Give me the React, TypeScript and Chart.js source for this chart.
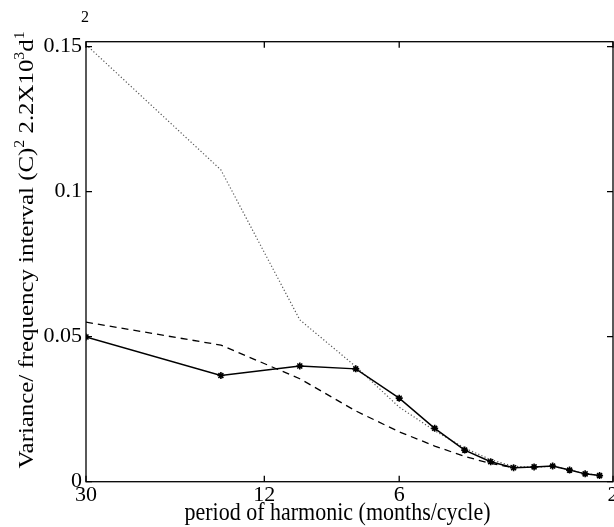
import { useEffect, useRef } from 'react';
import { Chart, registerables } from 'chart.js';

Chart.register(...registerables);

// ---- data ----
const harmonics = [2, 4, 6, 8, 10, 12, 14, 16, 18, 20, 22, 24, 26, 28];
const observedVariance = [0.0499, 0.0366, 0.0399, 0.0389, 0.0288, 0.0184, 0.0109, 0.0069, 0.0048, 0.0051, 0.0054, 0.004, 0.0027, 0.0021];
const dottedVariance = [0.1507, 0.1075, 0.0558, 0.0397, 0.0257, 0.0176, 0.0116, 0.0076, 0.0053, 0.005, 0.0053, 0.0041, 0.0028, 0.0022];
const dashedHarmonics = [2, 4, 6, 8, 10, 12, 14, 16, 18];
const dashedVariance = [0.055, 0.0471, 0.0355, 0.0244, 0.0172, 0.0123, 0.0087, 0.0063, 0.0048];

const xTickHarmonics = [2, 5, 10, 30];
const xTickLabels = ['30', '12', '6', '2'];
const yTickValues = [0, 0.05, 0.1, 0.15];
const yTickLabels = ['0', '0.05', '0.1', '0.15'];

const xTitle = 'period of harmonic (months/cycle)';
const yTitleParts = [
  { text: 'Variance/ frequency interval (C)', sup: false },
  { text: '2', sup: true },
  { text: ' 2.2X10', sup: false },
  { text: '3', sup: true },
  { text: 'd', sup: false },
  { text: '1', sup: true },
];
const cornerLabel = '2';

const FONT = '"Liberation Serif", "Times New Roman", serif';

const framePlugin = {
  id: 'frame',
  afterDraw(chart: any) {
    const { ctx, chartArea, scales } = chart;
    const { left, right, top, bottom } = chartArea;
    const x = scales.x;
    const y = scales.y;
    ctx.save();
    ctx.strokeStyle = '#000';
    ctx.lineWidth = 1.3;
    ctx.strokeRect(left, top, right - left, bottom - top);
    const tl = 6;
    ctx.beginPath();
    for (const v of xTickHarmonics) {
      const px = x.getPixelForValue(v);
      ctx.moveTo(px, bottom);
      ctx.lineTo(px, bottom - tl);
      ctx.moveTo(px, top);
      ctx.lineTo(px, top + tl);
    }
    for (const v of yTickValues) {
      const py = y.getPixelForValue(v);
      ctx.moveTo(left, py);
      ctx.lineTo(left + tl, py);
      ctx.moveTo(right, py);
      ctx.lineTo(right - tl, py);
    }
    ctx.stroke();

    ctx.fillStyle = '#000';
    // x title
    ctx.save();
    ctx.font = `22px ${FONT}`;
    ctx.textAlign = 'center';
    ctx.textBaseline = 'alphabetic';
    ctx.translate(337.5, 520);
    ctx.scale(1, 1.1);
    ctx.fillText(xTitle, 0, 0);
    ctx.restore();

    // y title with superscripts
    ctx.save();
    const mainFont = `22px ${FONT}`;
    const supFont = `14px ${FONT}`;
    let total = 0;
    const widths = yTitleParts.map((p) => {
      ctx.font = p.sup ? supFont : mainFont;
      const w = ctx.measureText(p.text).width;
      total += w;
      return w;
    });
    ctx.translate(32.5, 250);
    ctx.rotate(-Math.PI / 2);
    ctx.scale(1.13, 1);
    ctx.textAlign = 'left';
    ctx.textBaseline = 'alphabetic';
    let pos = -total / 2;
    yTitleParts.forEach((p, i) => {
      ctx.font = p.sup ? supFont : mainFont;
      ctx.fillText(p.text, pos, p.sup ? -9 : 0);
      pos += widths[i];
    });
    ctx.restore();

    // stray corner label
    ctx.font = `16px ${FONT}`;
    ctx.textAlign = 'center';
    ctx.textBaseline = 'alphabetic';
    ctx.fillText(cornerLabel, 85, 22);
    ctx.restore();
  },
};

export default function App() {
  const canvasRef = useRef<HTMLCanvasElement | null>(null);

  useEffect(() => {
    const canvas = canvasRef.current;
    if (!canvas) return;
    const chart = new Chart(canvas, {
      type: 'line',
      data: {
        datasets: [
          {
            label: 'observed',
            data: harmonics.map((h, i) => ({ x: h, y: observedVariance[i] })),
            borderColor: '#000',
            backgroundColor: '#000',
            borderWidth: 1.5,
            pointStyle: 'star',
            pointRadius: 3.5,
            pointBorderWidth: 1.6,
            pointBorderColor: '#000',
            tension: 0,
          },
          {
            label: 'dashed',
            data: dashedHarmonics.map((h, i) => ({ x: h, y: dashedVariance[i] })),
            borderColor: '#000',
            borderWidth: 1.3,
            borderDash: [7, 5],
            pointRadius: 0,
            tension: 0,
          },
          {
            label: 'dotted',
            data: harmonics.map((h, i) => ({ x: h, y: dottedVariance[i] })),
            borderColor: '#555',
            borderWidth: 1.2,
            borderDash: [1.2, 2.2],
            pointRadius: 0,
            tension: 0,
          },
        ],
      },
      options: {
        animation: false,
        responsive: false,
        devicePixelRatio: 1,
        layout: { autoPadding: false, padding: { top: 41.7, right: 1, left: 0, bottom: 0 } },
        plugins: { legend: { display: false }, tooltip: { enabled: false }, title: { display: false } },
        scales: {
          x: {
            type: 'logarithmic',
            min: 2,
            max: 30,
            grid: { display: false, drawTicks: false },
            border: { display: false },
            afterBuildTicks: (scale: any) => {
              scale.ticks = xTickHarmonics.map((v) => ({ value: v }));
            },
            afterFit: (scale: any) => {
              scale.height = 527 - 481.7;
              scale.paddingLeft = 0;
              scale.paddingRight = 0;
            },
            ticks: {
              autoSkip: false,
              maxRotation: 0,
              minRotation: 0,
              padding: 0,
              color: '#000',
              font: { family: FONT, size: 22 },
              callback: (value: any) => {
                const idx = xTickHarmonics.indexOf(Number(value));
                return idx >= 0 ? xTickLabels[idx] : '';
              },
            },
          },
          y: {
            type: 'linear',
            min: 0,
            max: 0.1517,
            grid: { display: false, drawTicks: false },
            border: { display: false },
            afterBuildTicks: (scale: any) => {
              scale.ticks = yTickValues.map((v) => ({ value: v }));
            },
            afterFit: (scale: any) => {
              scale.width = 86;
              scale.paddingTop = 0;
              scale.paddingBottom = 0;
            },
            ticks: {
              autoSkip: false,
              padding: 4,
              color: '#000',
              font: { family: FONT, size: 22 },
              callback: (value: any) => {
                const idx = yTickValues.indexOf(Number(value));
                return idx >= 0 ? yTickLabels[idx] : '';
              },
            },
          },
        },
      },
      plugins: [framePlugin],
    });
    return () => chart.destroy();
  }, []);

  return (
    <div style={{ position: 'fixed', left: 0, top: 0, width: 614, height: 527, background: '#fff' }}>
      <canvas ref={canvasRef} width={614} height={527} style={{ display: 'block', width: 614, height: 527 }} />
    </div>
  );
}
